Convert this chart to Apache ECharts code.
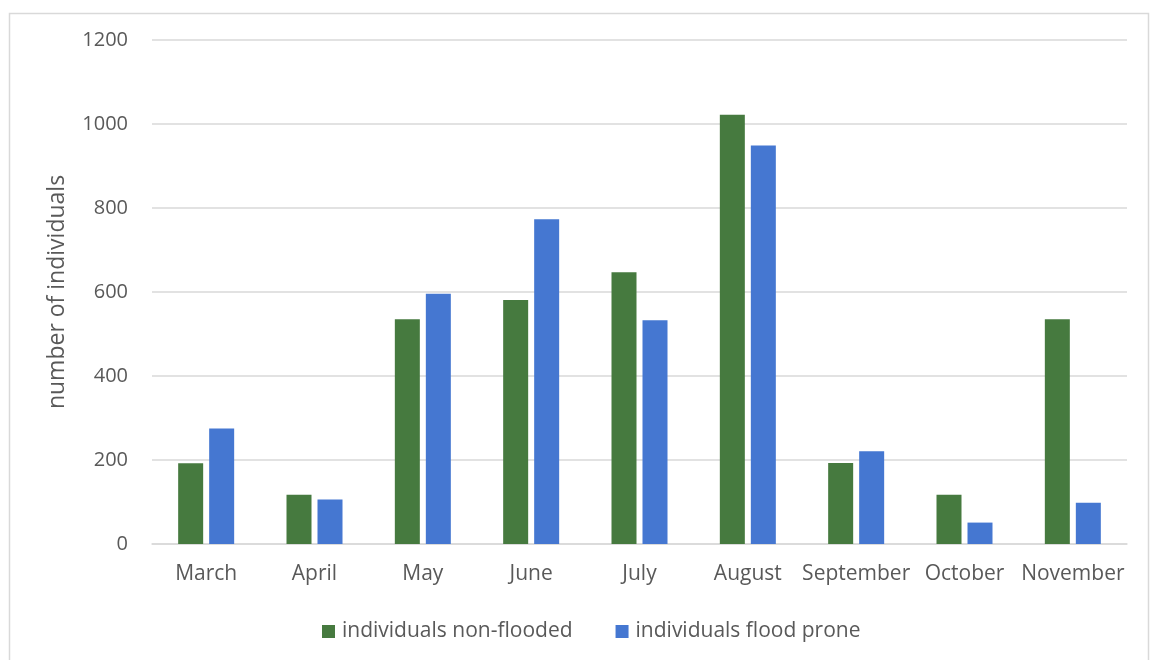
<!DOCTYPE html>
<html>
<head>
<meta charset="utf-8">
<script src="https://cdn.jsdelivr.net/npm/echarts@6/dist/echarts.min.js"></script>
<style>
html,body{margin:0;padding:0;background:#fff;}
#chart{width:1151px;height:660px;}
</style>
</head>
<body>
<div id="chart"></div>
<script>
const categories = ['March','April','May','June','July','August','September','October','November'];
const nonFlooded = [192, 117, 535, 581, 647, 1022, 193, 117, 535];
const floodProne = [275, 106, 596, 773, 533, 949, 221, 51, 98];
const seriesNames = ['individuals non-flooded', 'individuals flood prone'];
const yTicks = {min: 0, max: 1200, interval: 200};
const yTitle = 'number of individuals';

const font = '"Open Sans", "Noto Sans", sans-serif';
const chart = echarts.init(document.getElementById('chart'), null, {renderer: 'canvas'});
chart.setOption({
  animation: false,
  backgroundColor: '#fff',
  graphic: [{
    type: 'rect', left: 7, top: 11,
    shape: {width: 1139, height: 660},
    style: {fill: 'none', stroke: '#d9d9d9', lineWidth: 1.5}
  }],
  grid: {left: 152, right: 24, top: 40, bottom: 116, containLabel: false},
  legend: {
    top: 616, left: 317,
    itemWidth: 13, itemHeight: 13, itemGap: 43,
    icon: 'rect',
    textStyle: {color: '#595959', fontSize: 21, fontFamily: font, padding: [0, 0, 0, 2]},
    data: seriesNames
  },
  xAxis: {
    type: 'category', data: categories,
    axisLine: {show: true, lineStyle: {color: '#d9d9d9', width: 1.5}},
    axisTick: {show: false},
    axisLabel: {color: '#595959', fontSize: 21, fontFamily: font, margin: 20, interval: 0}
  },
  yAxis: {
    type: 'value', min: yTicks.min, max: yTicks.max, interval: yTicks.interval,
    name: yTitle, nameLocation: 'middle', nameGap: 83, nameRotate: 90,
    nameTextStyle: {color: '#595959', fontSize: 23, fontFamily: font},
    axisLine: {show: false}, axisTick: {show: false},
    axisLabel: {color: '#595959', fontSize: 20, fontFamily: font, margin: 24,
                formatter: function (v) { return String(v); }},
    splitLine: {lineStyle: {color: '#d9d9d9', width: 1.5}}
  },
  series: [
    {name: seriesNames[0], type: 'bar', data: nonFlooded, barWidth: 25, barGap: '24%',
     itemStyle: {color: '#467a3f'}},
    {name: seriesNames[1], type: 'bar', data: floodProne, barWidth: 25, barGap: '24%',
     itemStyle: {color: '#4577d1'}}
  ]
});
</script>
</body>
</html>
